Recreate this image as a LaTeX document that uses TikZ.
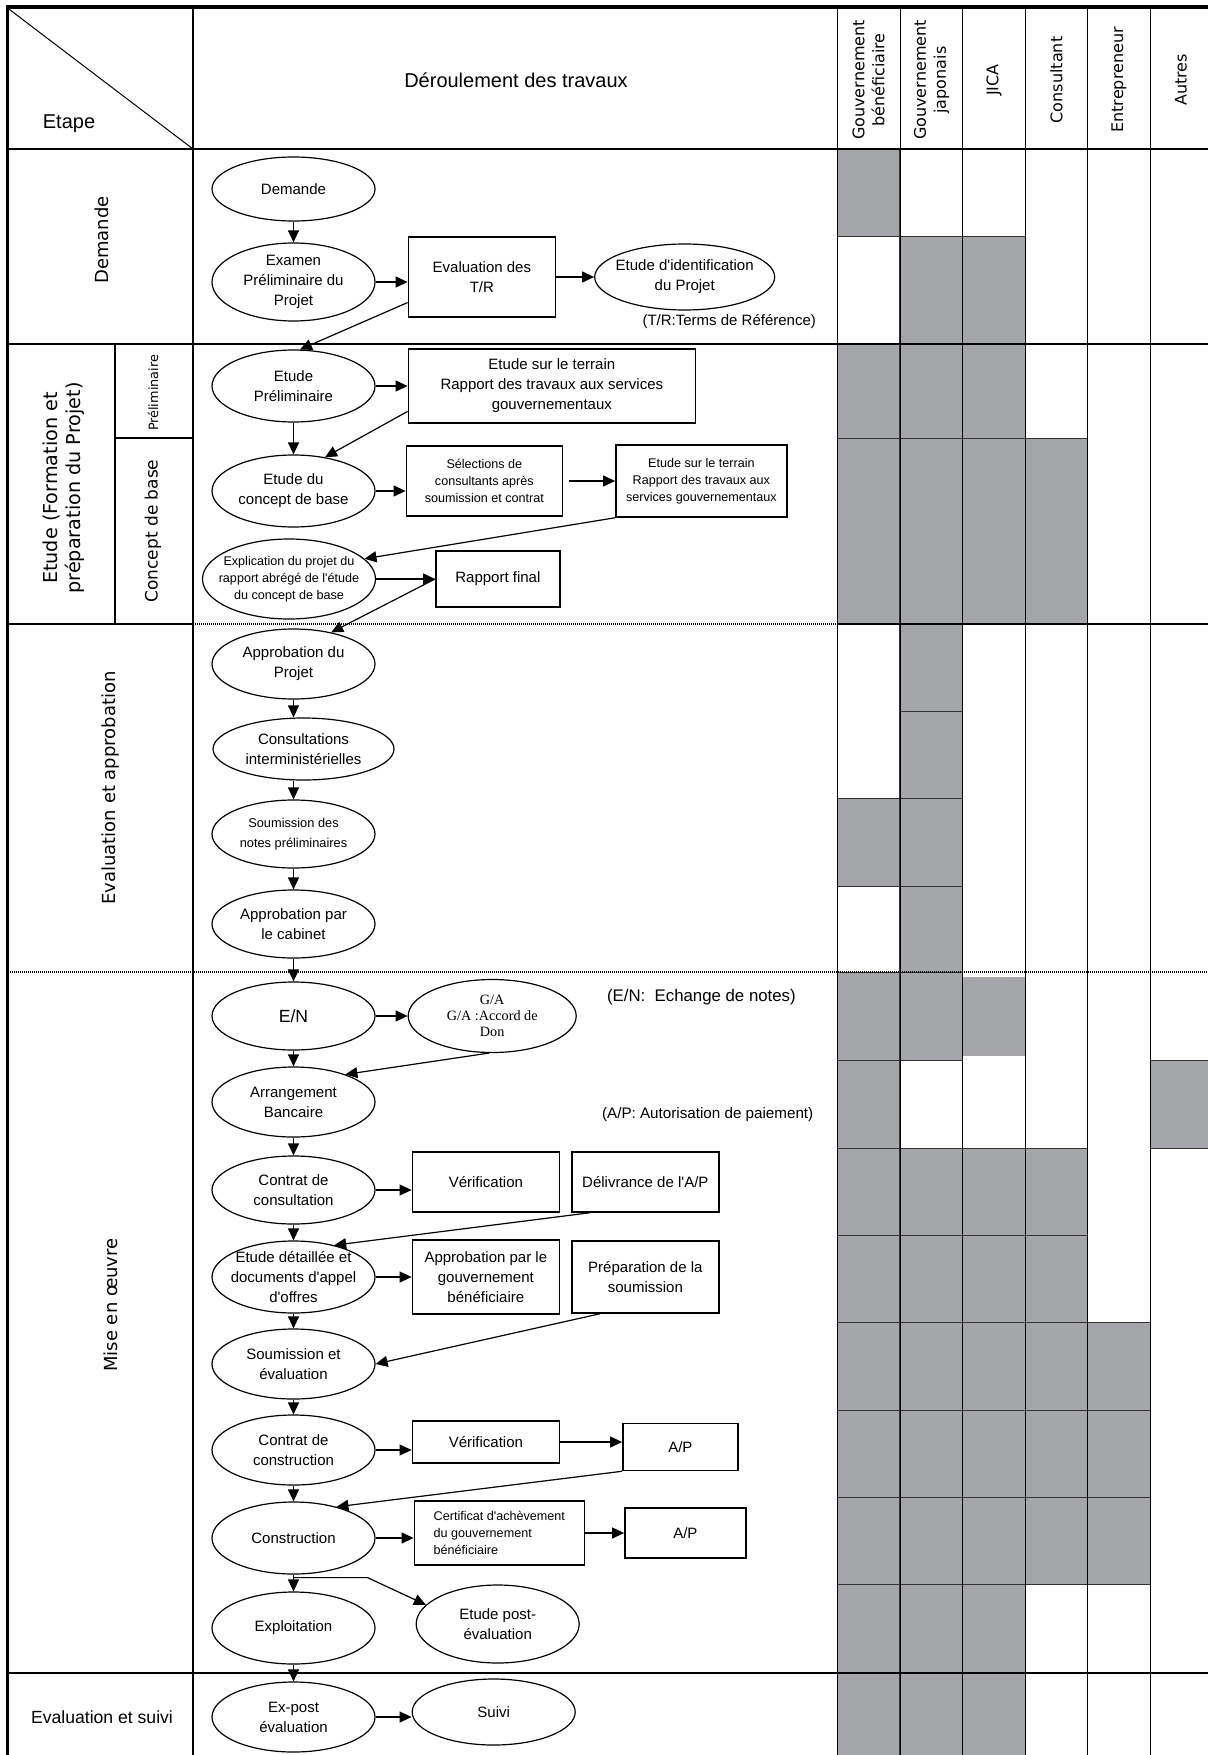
\documentclass[tikz,border=0pt]{standalone}
\usepackage{fontspec}
\setmainfont{Liberation Sans}
\newfontfamily\rolefamily{DejaVu Sans}
\newfontfamily\gafamily{Liberation Serif}
\usetikzlibrary{shapes.geometric,arrows.meta,positioning,calc}
\definecolor{actColor}{RGB}{165,166,170}
\definecolor{cellLine}{RGB}{50,50,50}
\newcommand{\flowfont}{\fontsize{7.5}{10}\selectfont}
\newcommand{\flowsmallfont}{\fontsize{6.3}{8.4}\selectfont}
\newcommand{\flownotefont}{\fontsize{6.4}{10}\selectfont}
\newcommand{\headfont}{\fontsize{10}{12}\selectfont}
\newcommand{\phasefont}{\rolefamily\fontsize{9}{11.5}\selectfont}
\newcommand{\rolefont}{\rolefamily\fontsize{8}{10}\selectfont}
\newcommand{\gafont}{\gafamily\fontsize{7.1}{7.9}\selectfont}
\newcommand{\apos}{\textquotesingle}

\begin{document}
\begin{tikzpicture}[x=0.5pt, y=-0.5pt,
    proc/.style={ellipse, draw, line width=0.6pt, minimum width=81.5pt, inner sep=-8pt, align=center, font=\flowfont},
    task/.style={draw, line width=0.75pt, inner sep=2pt, align=center, font=\flowfont},
    arr/.style={-{Triangle[length=6pt,width=5.5pt]}, line width=0.6pt},
    act/.style={fill=actColor, draw=cellLine, line width=0.5pt},
    thinline/.style={line width=0.5pt},
    sect/.style={line width=0.65pt},
    dotline/.style={line width=1pt, dash pattern=on 0.5pt off 0.5pt},
    phase/.style={rotate=90, align=center, font=\phasefont},
    role/.style={rotate=90, align=center, font=\rolefont},
    note/.style={font=\flowfont}
  ]
  \clip (0,0) rectangle (1208,1755);

  % participation cells
  \foreach \ya/\yb/\cols in {149/237/{1}, 237/344/{2,3}, 344/438/{1,2,3}, 438/624/{1,2,3,4},
      624/711/{2}, 711/798/{2}, 798/886/{1,2}, 886/972/{2}, 972/1060/{1,2}, 1060/1148/{1,6},
      1148/1235/{1,2,3,4}, 1235/1322/{1,2,3,4}, 1322/1410/{1,2,3,4,5}, 1410/1497/{1,2,3,4,5},
      1497/1584/{1,2,3,4,5}, 1584/1673/{1,2,3}, 1673/1765/{1,2,3}}
    \foreach \c in \cols
      \draw[act] ({837+62.7*(\c-1)},\ya) rectangle ({837+62.7*\c},\yb);
  \draw[fill=actColor, draw=gray!70, line width=0.6pt] (964,978) rectangle (1024,1055);

  % table rules
  \foreach \x in {837,900,962.7,1025.3,1087.7,1150.5}
    \draw[thinline] (\x,8) -- (\x,1760);
  \draw[sect] (193,8) -- (193,1760);
  \draw[thinline] (7.5,8) -- (193,149);
  \draw[sect] (7.5,149) -- (1215,149);
  \draw[sect] (7.5,344) -- (1215,344);
  \draw[sect] (115,344) -- (115,624);
  \draw[sect] (115,438) -- (193,438);
  \draw[sect] (7.5,624) -- (193,624);
  \draw[dotline] (193,624) -- (837,624);
  \draw[sect] (837,624) -- (1215,624);
  \draw[dotline] (7.5,972) -- (1215,972);
  \draw[sect] (7.5,1673) -- (1215,1673);
  \draw[line width=1.8pt] (7.5,1760) -- (7.5,7) -- (1215,7);

  % headings
  \node[font=\headfont] (etape) at (69,124) {Etape};
  \node[font=\headfont] (travaux) at (516,80) {Déroulement des travaux};
  \foreach \x/\txt [count=\i] in {868.5/{Gouvernement\\bénéficiaire}, 931.5/{Gouvernement\\japonais},
      994/JICA, 1056.5/Consultant, 1119/Entrepreneur, 1181/Autres}
    \node[role] (role\i) at (\x,80) {\txt};
  \node[phase] (phdem) at (102,240) {Demande};
  \node[phase, font=\rolefamily\fontsize{9.6}{11.5}\selectfont] (phetude) at (64,488) {Etude (Formation et\\préparation du Projet)};
  \node[phase, font=\rolefamily\fontsize{6.4}{8}\selectfont] (phpre) at (153,393) {Préliminaire};
  \node[phase, font=\rolefamily\fontsize{8.5}{10}\selectfont] (phcon) at (153,531) {Concept de base};
  \node[phase] (pheval) at (111,788) {Evaluation et approbation};
  \node[phase] (phmise) at (111,1305) {Mise en œuvre};
  \node[font=\fontsize{8.8}{10}\selectfont] (phsuivi) at (102,1717) {Evaluation et suivi};

  % Demande
  \node[proc, minimum height=32pt] (dem) at (293.5,189) {Demande};
  \node[proc, minimum height=39pt] (exam) at (293.5,282) {Examen\\Préliminaire du\\Projet};
  \node[task, minimum width=73.5pt, minimum height=40pt, right=16pt of exam, yshift=2.5pt] (evtr) {Evaluation des\\T/R};
  \node[proc, minimum width=90pt, minimum height=33pt, right=19pt of evtr] (ident) {Etude d\apos identification\\du Projet};
  \node[note, anchor=east] (trnote) at (823,322) {(T/R:Terms de Référence)};

  % Etude
  \node[proc, minimum height=36pt] (prelim) at (293.5,386) {Etude\\Préliminaire};
  \node[task, minimum width=143.5pt, minimum height=37pt, right=16pt of prelim] (terrain) {Etude sur le terrain\\Rapport des travaux aux services\\gouvernementaux};
  \node[proc, minimum height=36pt] (concept) at (293.5,491) {Etude du\\concept de base};
  \node[task, font=\flowsmallfont, minimum width=78pt, minimum height=35pt, right=15pt of concept, yshift=5pt] (select) {Sélections de\\consultants après\\soumission et contrat};
  \node[task, font=\flowsmallfont, minimum width=85.5pt, minimum height=36pt, right=26pt of select] (terrainb) {Etude sur le terrain\\Rapport des travaux aux\\services gouvernementaux};
  \node[proc, font=\flowsmallfont, minimum width=86.5pt, minimum height=40pt] (explic) at (289,579) {Explication du projet du\\rapport abrégé de l\apos étude\\du concept de base};
  \node[task, minimum width=62pt, minimum height=28pt, right=29.5pt of explic] (final) {Rapport final};

  % Evaluation et approbation
  \node[proc, minimum height=35pt] (approb) at (293.5,664) {Approbation du\\Projet};
  \node[proc, minimum width=90.5pt, minimum height=31pt] (consult) at (303.5,749) {Consultations\\interministérielles};
  \node[proc, font=\flownotefont, minimum height=34pt] (notes) at (293.5,834) {Soumission des\\notes préliminaires};
  \node[proc, minimum height=34pt] (cabinet) at (293.5,924) {Approbation par\\le cabinet};

  % Mise en oeuvre
  \node[proc, minimum height=34pt, font=\fontsize{8.8}{10}\selectfont] (en) at (293.5,1016) {E/N};
  \node[proc, minimum width=84pt, minimum height=36.5pt, font=\gafont, right=16pt of en] (ga) {G/A\\G/A :Accord de\\Don};
  \node[note, font=\fontsize{8.4}{10}\selectfont, anchor=west] (ennote) at (600,997) {(E/N:\ \ Echange de notes)};
  \node[proc, minimum height=35pt] (bank) at (293.5,1102) {Arrangement\\Bancaire};
  \node[note, font=\fontsize{7.6}{10}\selectfont, anchor=west] (apnote) at (595,1115) {(A/P: Autorisation de paiement)};
  \node[proc, minimum height=34pt] (consul) at (293.5,1190) {Contrat de\\consultation};
  \node[task, minimum width=73.5pt, minimum height=30pt, right=18pt of consul, yshift=4pt] (verifa) {Vérification};
  \node[task, minimum width=73.5pt, minimum height=30pt, right=5.5pt of verifa] (deliv) {Délivrance de l\apos A/P};
  \node[proc, minimum height=36pt] (detail) at (293.5,1277) {Etude détaillée et\\documents d\apos appel\\d\apos offres};
  \node[task, minimum width=73.5pt, minimum height=37pt, right=18pt of detail] (approgb) {Approbation par le\\gouvernement\\bénéficiaire};
  \node[task, minimum width=73.5pt, minimum height=36pt, right=5.5pt of approgb] (prep) {Préparation de la\\soumission};
  \node[proc, minimum height=35pt] (soumev) at (293.5,1364) {Soumission et\\évaluation};
  \node[proc, minimum height=35pt] (ccons) at (293.5,1450) {Contrat de\\construction};
  \node[task, minimum width=73.5pt, minimum height=21pt, right=18pt of ccons, yshift=4pt] (verifb) {Vérification};
  \node[task, minimum width=57.5pt, minimum height=23.5pt, right=31pt of verifb, yshift=-2.5pt] (apa) {A/P};
  \node[proc, minimum height=36pt] (constr) at (293.5,1538) {Construction};
  \node[task, font=\flowsmallfont, align=left, minimum width=85pt, minimum height=32pt, right=19pt of constr, yshift=2.5pt] (certif) {Certificat d\apos achèvement\\du gouvernement\\bénéficiaire};
  \node[task, minimum width=60.5pt, minimum height=25pt, right=19.5pt of certif] (apb) {A/P};
  \node[proc, minimum height=36pt] (exploit) at (293.5,1628) {Exploitation};
  \node[proc, minimum height=39pt, right=20pt of exploit, yshift=2pt] (post) {Etude post-\\évaluation};

  % Evaluation et suivi
  \node[proc, minimum height=35pt] (expost) at (293.5,1717) {Ex-post\\évaluation};
  \node[proc, minimum height=33pt, right=18pt of expost, yshift=2.5pt] (suivi) {Suivi};

  \draw[arr] (dem) -- (exam);
  \draw[arr] (exam.east) -- (exam.east -| evtr.west);
  \draw[arr] (evtr.east) -- (evtr.east -| ident.west);
  \draw[arr] (evtr.199) -- (prelim.80);
  \draw[arr] (prelim.east) -- (prelim.east -| terrain.west);
  \draw[arr] (prelim) -- (concept);
  \draw[arr] (terrain.190) -- (concept.47);
  \draw[arr] (concept.east) -- (concept.east -| select.west);
  \draw[arr, shorten <=3pt] (select.east) -- (select.east -| terrainb.west);
  \draw[arr] (terrainb.south west) -- (explic.15);
  \draw[arr] (explic.east) -- (explic.east -| final.west);
  \draw[arr] (final.west) -- (approb.40);
  \draw[arr] (approb.south) -- (approb.south |- consult.north);
  \draw[arr] (notes.north |- consult.south) -- (notes.north);
  \draw[arr] (notes) -- (cabinet);
  \draw[arr] (cabinet) -- (en);
  \draw[arr] (en.east) -- (en.east -| ga.west);
  \draw[arr] (ga.265) -- (bank.28);
  \draw[arr] (en) -- (bank);
  \draw[arr] (bank) -- (consul);
  \draw[arr] (consul.east) -- (consul.east -| verifa.west);
  \draw[arr] (deliv.209) -- (detail.38);
  \draw[arr] (consul) -- (detail);
  \draw[arr] (detail.east) -- (detail.east -| approgb.west);
  \draw[arr] (prep.219) -- (soumev.east);
  \draw[arr] (detail) -- (soumev);
  \draw[arr] (soumev) -- (ccons);
  \draw[arr] (ccons.east) -- (ccons.east -| verifb.west);
  \draw[arr] (verifb.east) -- (verifb.east -| apa.west);
  \draw[arr] (apa.south west) -- (constr.36);
  \draw[arr] (ccons) -- (constr);
  \draw[arr] (constr.east) -- (constr.east -| certif.west);
  \draw[arr] (certif.east) -- (certif.east -| apb.west);
  \draw[arr] (constr) -- (exploit);
  \draw[arr] ($(constr.south)+(0,3)$) -- ++(74,0) -- (post.165);
  \draw[arr] (exploit) -- (expost);
  \draw[arr] (expost.east) -- (expost.east -| suivi.west);
\end{tikzpicture}
\end{document}
